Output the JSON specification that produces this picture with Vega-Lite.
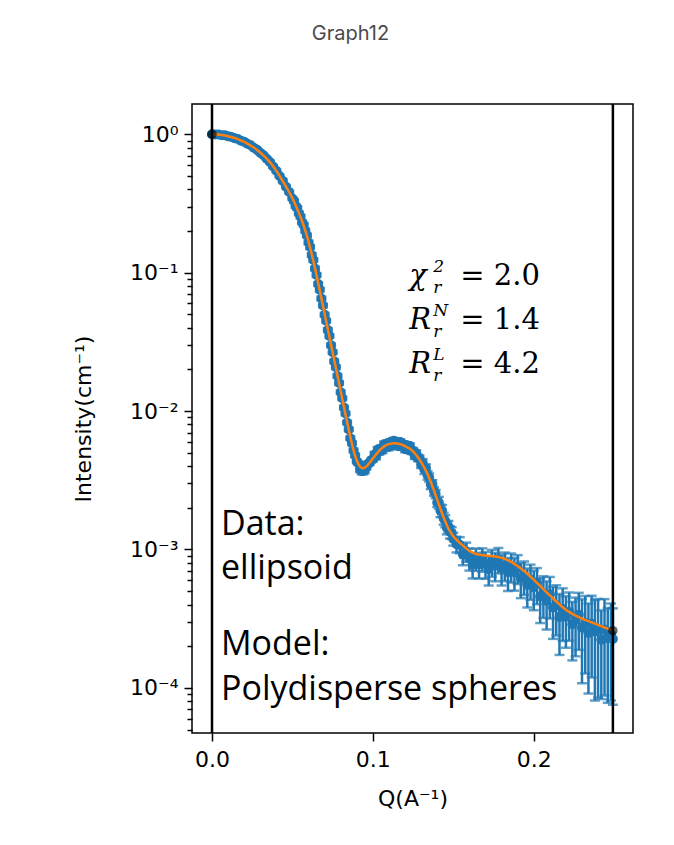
{
  "$schema": "https://vega.github.io/schema/vega-lite/v6.json",
  "width": 441,
  "height": 629,
  "autosize": {"type": "none"},
  "padding": {"left": 192, "top": 104, "right": 41, "bottom": 112},
  "background": "white",
  "title": {"text": "Graph12", "font": "Inter", "fontSize": 20, "fontWeight": "normal", "color": "#4a4a4a", "anchor": "middle", "frame": "group", "dx": -62, "offset": 43, "baseline": "alphabetic"},
  "config": {
    "view": {"stroke": "black", "strokeWidth": 1.5},
    "axis": {"labelFont": "DejaVu Sans", "labelFontSize": 22, "labelColor": "black", "titleFont": "DejaVu Sans", "titleFontSize": 22, "titleFontWeight": "normal", "titleColor": "black", "domain": false, "grid": false, "tickColor": "black", "tickWidth": 1.5}
  },
  "datasets": {
    "saxs": [
      {"q":0,"I":1.002,"e":0.02,"m":1.0},
      {"q":0.002,"I":0.9951,"e":0.02,"m":0.9977},
      {"q":0.004,"I":0.9972,"e":0.02,"m":0.9954},
      {"q":0.006,"I":0.9859,"e":0.02,"m":0.9886},
      {"q":0.008,"I":0.982,"e":0.02,"m":0.9795},
      {"q":0.01,"I":0.9661,"e":0.019,"m":0.9683},
      {"q":0.012,"I":0.9573,"e":0.019,"m":0.955},
      {"q":0.014,"I":0.938,"e":0.019,"m":0.9397},
      {"q":0.016,"I":0.9245,"e":0.018,"m":0.9226},
      {"q":0.018,"I":0.899,"e":0.018,"m":0.9016},
      {"q":0.02,"I":0.8836,"e":0.018,"m":0.881},
      {"q":0.022,"I":0.8551,"e":0.017,"m":0.857},
      {"q":0.024,"I":0.8322,"e":0.017,"m":0.8299},
      {"q":0.026,"I":0.799,"e":0.016,"m":0.8017},
      {"q":0.028,"I":0.7731,"e":0.015,"m":0.7709},
      {"q":0.03,"I":0.7362,"e":0.015,"m":0.7379},
      {"q":0.032,"I":0.7055,"e":0.014,"m":0.7031},
      {"q":0.034,"I":0.665,"e":0.013,"m":0.6668},
      {"q":0.036,"I":0.6313,"e":0.013,"m":0.6295},
      {"q":0.038,"I":0.5858,"e":0.012,"m":0.5875},
      {"q":0.04,"I":0.5449,"e":0.011,"m":0.5433},
      {"q":0.042,"I":0.4998,"e":0.01,"m":0.5012},
      {"q":0.044,"I":0.4606,"e":0.0092,"m":0.4592},
      {"q":0.046,"I":0.4175,"e":0.0084,"m":0.4188},
      {"q":0.048,"I":0.3823,"e":0.0076,"m":0.3811},
      {"q":0.05,"I":0.344,"e":0.0069,"m":0.3451},
      {"q":0.051,"I":0.3297,"e":0.0098,"m":0.3258},
      {"q":0.052,"I":0.3032,"e":0.0092,"m":0.3069},
      {"q":0.053,"I":0.2936,"e":0.0087,"m":0.2884},
      {"q":0.054,"I":0.2685,"e":0.0081,"m":0.2704},
      {"q":0.055,"I":0.2544,"e":0.0076,"m":0.2529},
      {"q":0.056,"I":0.2313,"e":0.0071,"m":0.2355},
      {"q":0.057,"I":0.2216,"e":0.0065,"m":0.2183},
      {"q":0.058,"I":0.2008,"e":0.006,"m":0.2014},
      {"q":0.059,"I":0.186,"e":0.0055,"m":0.1845},
      {"q":0.06,"I":0.1654,"e":0.005,"m":0.1679},
      {"q":0.061,"I":0.1532,"e":0.0045,"m":0.1514},
      {"q":0.062,"I":0.1342,"e":0.0041,"m":0.1358},
      {"q":0.063,"I":0.1235,"e":0.0036,"m":0.1213},
      {"q":0.064,"I":0.1071,"e":0.0032,"m":0.1079},
      {"q":0.065,"I":0.09607,"e":0.0029,"m":0.0955},
      {"q":0.066,"I":0.08281,"e":0.0025,"m":0.08433},
      {"q":0.067,"I":0.07541,"e":0.0022,"m":0.0743},
      {"q":0.068,"I":0.06511,"e":0.002,"m":0.06531},
      {"q":0.069,"I":0.05787,"e":0.0017,"m":0.05741},
      {"q":0.07,"I":0.04971,"e":0.0015,"m":0.05047},
      {"q":0.071,"I":0.04489,"e":0.0013,"m":0.04436},
      {"q":0.072,"I":0.03852,"e":0.0012,"m":0.03899},
      {"q":0.073,"I":0.0349,"e":0.001,"m":0.03428},
      {"q":0.074,"I":0.02992,"e":0.0009,"m":0.03013},
      {"q":0.075,"I":0.02665,"e":0.0008,"m":0.02649},
      {"q":0.076,"I":0.02286,"e":0.0007,"m":0.02328},
      {"q":0.077,"I":0.02077,"e":0.00061,"m":0.02046},
      {"q":0.078,"I":0.01794,"e":0.00054,"m":0.01799},
      {"q":0.079,"I":0.01594,"e":0.00047,"m":0.01581},
      {"q":0.08,"I":0.01369,"e":0.00042,"m":0.0139},
      {"q":0.081,"I":0.01237,"e":0.00037,"m":0.01222},
      {"q":0.082,"I":0.01061,"e":0.00032,"m":0.01074},
      {"q":0.083,"I":0.009611,"e":0.00028,"m":0.009441},
      {"q":0.084,"I":0.00826,"e":0.00025,"m":0.008318},
      {"q":0.085,"I":0.007372,"e":0.00022,"m":0.007328},
      {"q":0.086,"I":0.006369,"e":0.00019,"m":0.006486},
      {"q":0.087,"I":0.005868,"e":0.00017,"m":0.005781},
      {"q":0.088,"I":0.005184,"e":0.00016,"m":0.0052},
      {"q":0.089,"I":0.00478,"e":0.00014,"m":0.004742},
      {"q":0.09,"I":0.004329,"e":0.00013,"m":0.004395},
      {"q":0.091,"I":0.0042,"e":0.00012,"m":0.00415},
      {"q":0.092,"I":0.003822,"e":0.0002,"m":0.003981},
      {"q":0.093,"I":0.003696,"e":0.0002,"m":0.00389},
      {"q":0.094,"I":0.00369,"e":0.0002,"m":0.003864},
      {"q":0.095,"I":0.003752,"e":0.0002,"m":0.003908},
      {"q":0.096,"I":0.003918,"e":0.00012,"m":0.00399},
      {"q":0.097,"I":0.004164,"e":0.00012,"m":0.004102},
      {"q":0.098,"I":0.004223,"e":0.00013,"m":0.004236},
      {"q":0.099,"I":0.00442,"e":0.00013,"m":0.004385},
      {"q":0.1,"I":0.004471,"e":0.00014,"m":0.004539},
      {"q":0.101,"I":0.00484,"e":0.000235,"m":0.004699},
      {"q":0.102,"I":0.004718,"e":0.000243,"m":0.004864},
      {"q":0.103,"I":0.005249,"e":0.000251,"m":0.005023},
      {"q":0.104,"I":0.005098,"e":0.000259,"m":0.005176},
      {"q":0.105,"I":0.005374,"e":0.000266,"m":0.005321},
      {"q":0.106,"I":0.005227,"e":0.000272,"m":0.005445},
      {"q":0.107,"I":0.005754,"e":0.000278,"m":0.005559},
      {"q":0.108,"I":0.005593,"e":0.000282,"m":0.005649},
      {"q":0.109,"I":0.005829,"e":0.000286,"m":0.005715},
      {"q":0.11,"I":0.005508,"e":0.000288,"m":0.005768},
      {"q":0.111,"I":0.005982,"e":0.00029,"m":0.005808},
      {"q":0.112,"I":0.005659,"e":0.000292,"m":0.005834},
      {"q":0.113,"I":0.006111,"e":0.000292,"m":0.005848},
      {"q":0.114,"I":0.00576,"e":0.000292,"m":0.005848},
      {"q":0.115,"I":0.005892,"e":0.000292,"m":0.005834},
      {"q":0.116,"I":0.005576,"e":0.00029,"m":0.005808},
      {"q":0.117,"I":0.00597,"e":0.000288,"m":0.005768},
      {"q":0.118,"I":0.005658,"e":0.000286,"m":0.005715},
      {"q":0.119,"I":0.005762,"e":0.000282,"m":0.005649},
      {"q":0.12,"I":0.005321,"e":0.000279,"m":0.005572},
      {"q":0.121,"I":0.00566,"e":0.000275,"m":0.005495},
      {"q":0.122,"I":0.005257,"e":0.000271,"m":0.00542},
      {"q":0.123,"I":0.005587,"e":0.000267,"m":0.005346},
      {"q":0.124,"I":0.005157,"e":0.000262,"m":0.005236},
      {"q":0.125,"I":0.005156,"e":0.000255,"m":0.005105},
      {"q":0.126,"I":0.004757,"e":0.000248,"m":0.004955},
      {"q":0.127,"I":0.004965,"e":0.00024,"m":0.004797},
      {"q":0.128,"I":0.004588,"e":0.000232,"m":0.004634},
      {"q":0.129,"I":0.004556,"e":0.000223,"m":0.004467},
      {"q":0.13,"I":0.004092,"e":0.000214,"m":0.004285},
      {"q":0.131,"I":0.004216,"e":0.000287,"m":0.004093},
      {"q":0.132,"I":0.003782,"e":0.000273,"m":0.003899},
      {"q":0.133,"I":0.003864,"e":0.000259,"m":0.003698},
      {"q":0.134,"I":0.003439,"e":0.000244,"m":0.003491},
      {"q":0.135,"I":0.003314,"e":0.00023,"m":0.003281},
      {"q":0.136,"I":0.002946,"e":0.000215,"m":0.003069},
      {"q":0.137,"I":0.002964,"e":0.0002,"m":0.002864},
      {"q":0.138,"I":0.002634,"e":0.000186,"m":0.002661},
      {"q":0.139,"I":0.002521,"e":0.000173,"m":0.002472},
      {"q":0.14,"I":0.002188,"e":0.00016,"m":0.002291},
      {"q":0.141,"I":0.002187,"e":0.000212,"m":0.002123},
      {"q":0.142,"I":0.001909,"e":0.000197,"m":0.001968},
      {"q":0.143,"I":0.00191,"e":0.000183,"m":0.001828},
      {"q":0.144,"I":0.001676,"e":0.00017,"m":0.001702},
      {"q":0.145,"I":0.001608,"e":0.000159,"m":0.001592},
      {"q":0.146,"I":0.001436,"e":0.00015,"m":0.001496},
      {"q":0.147,"I":0.001466,"e":0.000142,"m":0.001416},
      {"q":0.148,"I":0.001336,"e":0.000135,"m":0.001349},
      {"q":0.149,"I":0.00132,"e":0.000129,"m":0.001294},
      {"q":0.15,"I":0.001191,"e":0.000125,"m":0.001247},
      {"q":0.152,"I":0.001093,"e":0.000141,"m":0.001175},
      {"q":0.154,"I":0.001083,"e":0.000145,"m":0.001117},
      {"q":0.156,"I":0.000918,"e":0.000149,"m":0.001067},
      {"q":0.158,"I":0.000968,"e":0.000153,"m":0.001019},
      {"q":0.16,"I":0.00086,"e":0.000156,"m":0.0009772},
      {"q":0.162,"I":0.000779,"e":0.000162,"m":0.0009506},
      {"q":0.164,"I":0.000857,"e":0.000158,"m":0.0009311},
      {"q":0.166,"I":0.000781,"e":0.000165,"m":0.0009183},
      {"q":0.168,"I":0.000855,"e":0.000164,"m":0.0009099},
      {"q":0.17,"I":0.000786,"e":0.000172,"m":0.0009036},
      {"q":0.172,"I":0.00072,"e":0.000171,"m":0.0008995},
      {"q":0.174,"I":0.000815,"e":0.000179,"m":0.0008954},
      {"q":0.176,"I":0.000767,"e":0.000178,"m":0.0008913},
      {"q":0.178,"I":0.000848,"e":0.000177,"m":0.0008831},
      {"q":0.18,"I":0.000732,"e":0.000183,"m":0.000871},
      {"q":0.182,"I":0.00077,"e":0.00018,"m":0.0008551},
      {"q":0.184,"I":0.000685,"e":0.000184,"m":0.0008356},
      {"q":0.186,"I":0.000756,"e":0.000179,"m":0.0008128},
      {"q":0.188,"I":0.000685,"e":0.000181,"m":0.000787},
      {"q":0.19,"I":0.000736,"e":0.000174,"m":0.0007586},
      {"q":0.192,"I":0.00062,"e":0.000175,"m":0.0007295},
      {"q":0.194,"I":0.000644,"e":0.000175,"m":0.0006998},
      {"q":0.196,"I":0.000555,"e":0.000174,"m":0.0006683},
      {"q":0.198,"I":0.000605,"e":0.000172,"m":0.0006368},
      {"q":0.2,"I":0.000533,"e":0.000169,"m":0.0006053},
      {"q":0.202,"I":0.000568,"e":0.000166,"m":0.0005741},
      {"q":0.204,"I":0.000457,"e":0.000163,"m":0.0005445},
      {"q":0.206,"I":0.00048,"e":0.00016,"m":0.0005164},
      {"q":0.208,"I":0.000426,"e":0.000162,"m":0.0004898},
      {"q":0.21,"I":0.000475,"e":0.000158,"m":0.0004656},
      {"q":0.212,"I":0.000381,"e":0.000155,"m":0.0004426},
      {"q":0.214,"I":0.000395,"e":0.000156,"m":0.0004207},
      {"q":0.216,"I":0.000325,"e":0.000152,"m":0.0004009},
      {"q":0.218,"I":0.000371,"e":0.000153,"m":0.0003828},
      {"q":0.22,"I":0.000327,"e":0.000132,"m":0.0003673},
      {"q":0.222,"I":0.000354,"e":0.000135,"m":0.000354},
      {"q":0.224,"I":0.000288,"e":0.00013,"m":0.0003428},
      {"q":0.226,"I":0.000309,"e":0.00014,"m":0.0003327},
      {"q":0.228,"I":0.000337,"e":0.000149,"m":0.0003243},
      {"q":0.23,"I":0.000272,"e":0.000164,"m":0.0003162},
      {"q":0.232,"I":0.000294,"e":0.000167,"m":0.0003097},
      {"q":0.234,"I":0.000249,"e":0.000158,"m":0.0003034},
      {"q":0.236,"I":0.000291,"e":0.000172,"m":0.0002972},
      {"q":0.238,"I":0.000256,"e":0.000175,"m":0.0002911},
      {"q":0.24,"I":0.000262,"e":0.000177,"m":0.0002851},
      {"q":0.242,"I":0.000223,"e":0.00014,"m":0.0002793},
      {"q":0.244,"I":0.000263,"e":0.000175,"m":0.0002735},
      {"q":0.246,"I":0.000228,"e":0.00015,"m":0.0002679},
      {"q":0.248,"I":0.000244,"e":0.000163,"m":0.0002624},
      {"q":0.2492,"I":0.0002255,"e":0.00015,"m":0.0002592}
    ],
    "range": [{"q": 0}, {"q": 0.2492}],
    "notes": [
      {"q": 0.0056, "I": 0.001279, "label": "Data:"},
      {"q": 0.0056, "I": 0.0006155, "label": "ellipsoid"},
      {"q": 0.0056, "I": 0.0001738, "label": "Model:"},
      {"q": 0.0056, "I": 0.00008218, "label": "Polydisperse spheres"}
    ],
    "stats": [
      {"q": 0.1226, "I": 0.08165, "sym": "χ", "sup": "2", "sub": "r", "val": "= 2.0"},
      {"q": 0.1226, "I": 0.03929, "sym": "R", "sup": "N", "sub": "r", "val": "= 1.4"},
      {"q": 0.1226, "I": 0.0189, "sym": "R", "sup": "L", "sub": "r", "val": "= 4.2"}
    ]
  },
  "encoding": {
    "x": {"field": "q", "type": "quantitative", "title": "Q(A⁻¹)",
      "scale": {"domain": [-0.01243, 0.2617], "nice": false, "zero": false},
      "axis": {"values": [0, 0.1, 0.2], "format": ".1f", "tickSize": 8, "labelPadding": 8, "titlePadding": 18}}
  },
  "layer": [
    {
      "data": {"name": "saxs"},
      "mark": {"type": "errorbar", "ticks": true, "size": 10, "thickness": 2.5, "color": "#1f77b4", "clip": true},
      "encoding": {
        "y": {"field": "I", "type": "quantitative", "title": "Intensity(cm⁻¹)",
          "scale": {"type": "log", "domain": [0.0000472, 1.655], "nice": false},
          "axis": {
            "values": [0.00005,0.00006,0.00007,0.00008,0.00009,0.0001,0.0002,0.0003,0.0004,0.0005,0.0006,0.0007,0.0008,0.0009,0.001,0.002,0.003,0.004,0.005,0.006,0.007,0.008,0.009,0.01,0.02,0.03,0.04,0.05,0.06,0.07,0.08,0.09,0.1,0.2,0.3,0.4,0.5,0.6,0.7,0.8,0.9,1],
            "labelExpr": "abs(log(datum.value)/LN10 - round(log(datum.value)/LN10)) < 0.001 ? '10' + ['⁰','⁻¹','⁻²','⁻³','⁻⁴'][-round(log(datum.value)/LN10)] : ''",
            "labelOverlap": false,
            "tickSize": {"condition": {"test": "abs(log(datum.value)/LN10 - round(log(datum.value)/LN10)) < 0.001", "value": 8}, "value": 5},
            "labelPadding": 6,
            "titlePadding": 34
          }
        },
        "yError": {"field": "e"}
      }
    },
    {
      "data": {"name": "saxs"},
      "mark": {"type": "circle", "size": 100, "color": "#1f77b4", "opacity": 1},
      "encoding": {
        "y": {"field": "I", "type": "quantitative", "title": "Intensity(cm⁻¹)", "scale": {"type": "log", "domain": [0.0000472, 1.655], "nice": false}}
      }
    },
    {
      "data": {"name": "saxs"},
      "mark": {"type": "line", "color": "#ff7f0e", "strokeWidth": 2.5, "interpolate": "monotone"},
      "encoding": {
        "y": {"field": "m", "type": "quantitative", "title": "Intensity(cm⁻¹)", "scale": {"type": "log", "domain": [0.0000472, 1.655], "nice": false}}
      }
    },
    {
      "data": {"name": "range"},
      "mark": {"type": "rule", "color": "black", "strokeWidth": 2.5},
      "encoding": {}
    },
    {
      "data": {"name": "saxs"},
      "transform": [{"filter": "datum.q == 0 || datum.q == 0.2492"}],
      "mark": {"type": "circle", "size": 90, "color": "black", "opacity": 0.6},
      "encoding": {
        "y": {"field": "m", "type": "quantitative", "title": "Intensity(cm⁻¹)", "scale": {"type": "log", "domain": [0.0000472, 1.655], "nice": false}}
      }
    },
    {
      "data": {"name": "notes"},
      "mark": {"type": "text", "align": "left", "baseline": "alphabetic", "font": "Open Sans", "fontSize": 34, "color": "black"},
      "encoding": {
        "y": {"field": "I", "type": "quantitative", "title": "Intensity(cm⁻¹)", "scale": {"type": "log", "domain": [0.0000472, 1.655], "nice": false}},
        "text": {"field": "label"}
      }
    },
    {
      "data": {"name": "stats"},
      "mark": {"type": "text", "align": "left", "baseline": "alphabetic", "font": "DejaVu Serif", "fontStyle": "italic", "fontSize": 29, "color": "black"},
      "encoding": {
        "y": {"field": "I", "type": "quantitative", "title": "Intensity(cm⁻¹)", "scale": {"type": "log", "domain": [0.0000472, 1.655], "nice": false}},
        "text": {"field": "sym"}
      }
    },
    {
      "data": {"name": "stats"},
      "mark": {"type": "text", "align": "left", "baseline": "alphabetic", "font": "DejaVu Serif", "fontStyle": "italic", "fontSize": 17, "dx": 24, "dy": -13, "color": "black"},
      "encoding": {
        "y": {"field": "I", "type": "quantitative", "title": "Intensity(cm⁻¹)", "scale": {"type": "log", "domain": [0.0000472, 1.655], "nice": false}},
        "text": {"field": "sup"}
      }
    },
    {
      "data": {"name": "stats"},
      "mark": {"type": "text", "align": "left", "baseline": "alphabetic", "font": "DejaVu Serif", "fontStyle": "italic", "fontSize": 17, "dx": 24, "dy": 8, "color": "black"},
      "encoding": {
        "y": {"field": "I", "type": "quantitative", "title": "Intensity(cm⁻¹)", "scale": {"type": "log", "domain": [0.0000472, 1.655], "nice": false}},
        "text": {"field": "sub"}
      }
    },
    {
      "data": {"name": "stats"},
      "mark": {"type": "text", "align": "left", "baseline": "alphabetic", "font": "DejaVu Serif", "fontSize": 29, "dx": 51, "color": "black"},
      "encoding": {
        "y": {"field": "I", "type": "quantitative", "title": "Intensity(cm⁻¹)", "scale": {"type": "log", "domain": [0.0000472, 1.655], "nice": false}},
        "text": {"field": "val"}
      }
    }
  ]
}
